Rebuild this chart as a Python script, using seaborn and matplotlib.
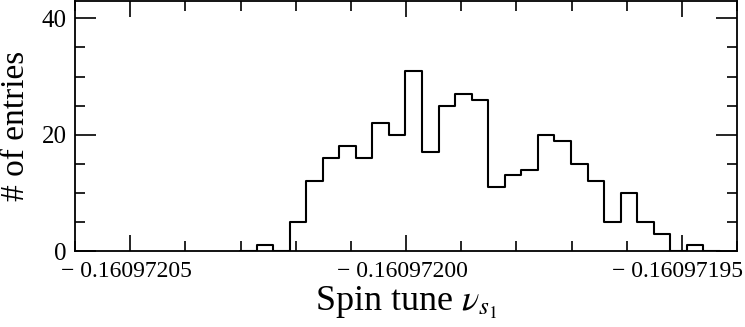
import numpy as np
import matplotlib
matplotlib.use("Agg")
import matplotlib.pyplot as plt
import matplotlib.ticker as mtick
import matplotlib.transforms as mtrans
import pandas as pd
import seaborn as sns

# histogram (bin width 3e-9)
BIN_START = -0.1609720301
BIN_WIDTH = 3e-9
COUNTS = [0, 1, 0, 5, 12, 16, 18, 16, 22, 20, 31, 17, 25, 27, 26,
          11, 13, 14, 20, 19, 15, 12, 5, 10, 5, 3, 0, 1, 0]

X_MAJOR = [-0.16097205, -0.16097200, -0.16097195]
X_LABELS = ["\u2212 0.16097205", "\u2212 0.16097200", "\u2212 0.16097195"]
Y_MAJOR = [0, 20, 40]

sns.set_style("ticks")
plt.rcParams["font.family"] = ["Liberation Serif", "DejaVu Serif"]
plt.rcParams["mathtext.fontset"] = "stix"
plt.rcParams["text.color"] = "black"
plt.rcParams["axes.labelcolor"] = "black"

edges = BIN_START + BIN_WIDTH * np.arange(len(COUNTS) + 1)
df = pd.DataFrame({"tune": (edges[:-1] + edges[1:]) / 2, "n": COUNTS})

fig = plt.figure(figsize=(7.45, 3.27), dpi=100)
ax = fig.add_axes([0.1007, 0.2324, 0.8886, 0.7646])

sns.histplot(data=df, x="tune", weights="n", bins=list(edges), element="step",
             fill=False, color="black", linewidth=1.5, ax=ax)

ax.set_xlim(-0.16097206, -0.16097194)
ax.set_ylim(0, 43)
ax.xaxis.set_major_locator(mtick.FixedLocator(X_MAJOR))
ax.xaxis.set_major_formatter(mtick.FixedFormatter(X_LABELS))
ax.xaxis.set_minor_locator(mtick.MultipleLocator(1e-8))
ax.yaxis.set_major_locator(mtick.FixedLocator(Y_MAJOR))
ax.yaxis.set_minor_locator(mtick.MultipleLocator(5))

ax.tick_params(which="both", direction="in", top=True, right=True,
               colors="black", labelcolor="black", width=1.2)
ax.tick_params(axis="x", which="major", length=11.5, pad=7, labelsize=17)
ax.tick_params(axis="y", which="major", length=15, pad=6, labelsize=18)
ax.tick_params(which="minor", length=7.5)
for s in ax.spines.values():
    s.set_linewidth(1.3)
    s.set_color("black")

# labels in the reference sit a few pixels left of their ticks
shift = mtrans.ScaledTranslation(-4 / 100, 0, fig.dpi_scale_trans)
for lab in ax.get_xticklabels():
    lab.set_transform(lab.get_transform() + shift)

ax.set_xlabel("Spin tune $\\nu_{s_1}$", fontsize=26, labelpad=2, color="black")
ax.set_ylabel("# of entries", fontsize=24, labelpad=8, color="black")

fig.savefig("out.png", dpi=100, facecolor="white")
